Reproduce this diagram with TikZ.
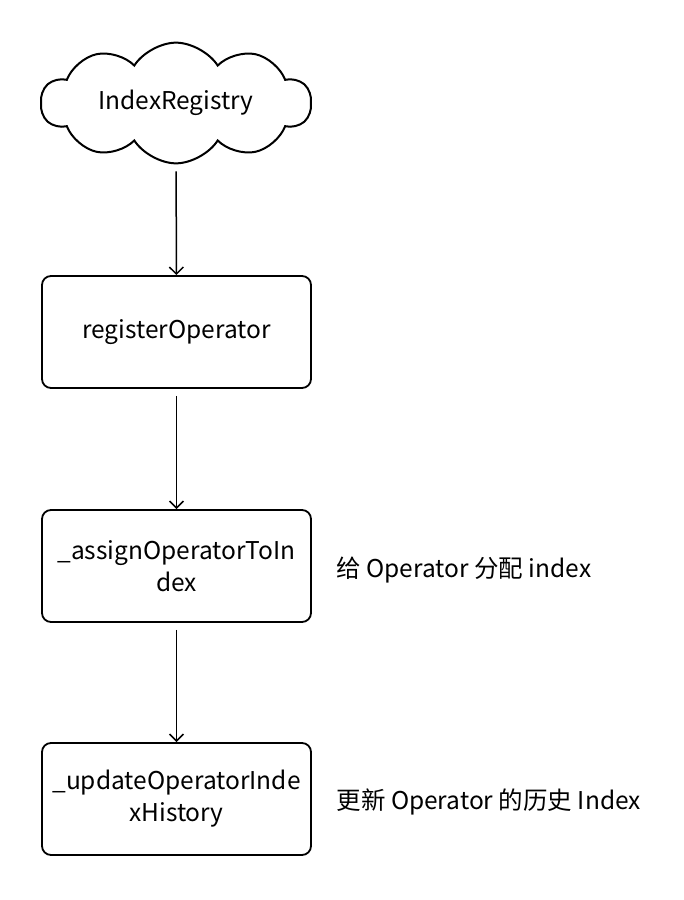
\documentclass[tikz,border=0pt]{standalone}
\usepackage{fontspec}
\setmainfont{Noto Sans CJK SC}
\usetikzlibrary{shapes.symbols,arrows.meta}

\begin{document}
\begin{tikzpicture}[x=1pt, y=-1pt,
    font=\fontsize{24.5}{32}\selectfont,
    stepbox/.style={draw, line width=1.8pt, rounded corners=9pt, minimum width=269pt, minimum height=112pt, align=center, inner sep=0pt},
    flow/.style={-{Straight Barb[length=7pt,width=14pt]}, line width=1.5pt, shorten <=7pt}]
    \useasboundingbox (0,0) rectangle (684,900);
    % Call chain
    \node[cloud, draw, line width=2pt, cloud puffs=10, cloud puff arc=115, aspect=2.5, minimum width=270pt, minimum height=100pt, inner sep=0pt] (registry) at (176,103) {IndexRegistry};
    \node[stepbox] (register) at (176.5,332) {registerOperator};
    \node[stepbox] (assign) at (176.5,566) {\_assignOperatorToIn\\dex};
    \node[stepbox] (update) at (176.5,799) {\_updateOperatorInde\\xHistory};

    \draw[flow] (registry) -- (register);
    \draw[flow] (register) -- (assign);
    \draw[flow] (assign) -- (update);

    % Notes
    \node[anchor=west] (assignnote) at (333,570) {给 Operator 分配 index};
    \node[anchor=west] (updatenote) at (333,802) {更新 Operator 的历史 Index};
\end{tikzpicture}
\end{document}
